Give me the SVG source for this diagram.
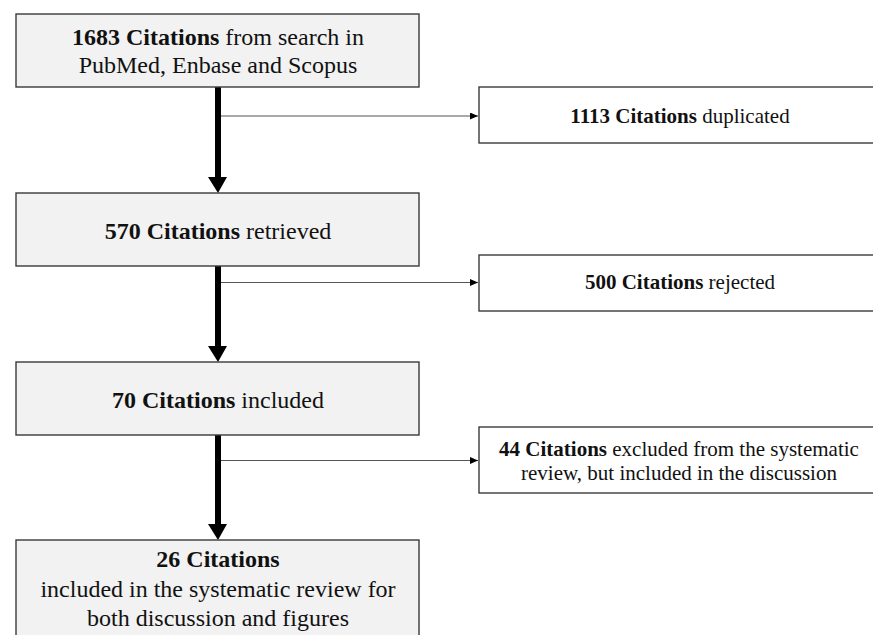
<svg xmlns="http://www.w3.org/2000/svg" width="873" height="635" viewBox="0 0 873 635">
<defs>
<style>
.main{fill:#f2f2f2;stroke:#3a3a3a;stroke-width:1.4}
.side{fill:#ffffff;stroke:#3a3a3a;stroke-width:1.4}
.t{font-family:'Tinos','Times New Roman','Times','Liberation Serif','DejaVu Serif',serif;fill:#111;text-anchor:middle}
.l{font-size:24px}
.r{font-size:21px}
.b{font-weight:bold}
.thick{stroke:#000;stroke-width:6;fill:none}
.thin{stroke:#555;stroke-width:1;fill:none}
</style>
<marker id="small" markerWidth="8" markerHeight="7" refX="8" refY="3.5" orient="auto" markerUnits="userSpaceOnUse">
<path d="M0,0 L8,3.5 L0,7 Z" fill="#000"/>
</marker>
</defs>
<rect width="873" height="635" fill="#ffffff"/>
<g id="connectors">
<line class="thick" x1="218" y1="87" x2="218" y2="178"/>
<path d="M208,177 L227,177 L218,193 Z" fill="#000"/>
<line class="thick" x1="218" y1="266" x2="218" y2="347"/>
<path d="M208,346 L227,346 L218,362 Z" fill="#000"/>
<line class="thick" x1="218" y1="435" x2="218" y2="525"/>
<path d="M208,524 L227,524 L218,540 Z" fill="#000"/>
<line class="thin" x1="221" y1="116" x2="478" y2="116" marker-end="url(#small)"/>
<line class="thin" x1="221" y1="282.5" x2="478" y2="282.5" marker-end="url(#small)"/>
<line class="thin" x1="221" y1="460.5" x2="478" y2="460.5" marker-end="url(#small)"/>
</g>
<g id="n1">
<rect class="main" x="16" y="14" width="403" height="73"/>
<text class="t l" x="218" y="45"><tspan class="b">1683 Citations</tspan> from search in</text>
<text class="t l" x="218" y="73">PubMed, Enbase and Scopus</text>
</g>
<g id="n2">
<rect class="side" x="479" y="87" width="410" height="56"/>
<text class="t r" x="680" y="123"><tspan class="b">1113 Citations</tspan> duplicated</text>
</g>
<g id="n3">
<rect class="main" x="16" y="193" width="403" height="73"/>
<text class="t l" x="218" y="239"><tspan class="b">570 Citations</tspan> retrieved</text>
</g>
<g id="n4">
<rect class="side" x="479" y="255" width="410" height="56"/>
<text class="t r" x="680" y="289"><tspan class="b">500 Citations</tspan> rejected</text>
</g>
<g id="n5">
<rect class="main" x="16" y="362" width="403" height="73"/>
<text class="t l" x="218" y="408"><tspan class="b">70 Citations</tspan> included</text>
</g>
<g id="n6">
<rect class="side" x="479" y="427" width="410" height="66"/>
<text class="t r" x="679" y="456"><tspan class="b">44 Citations</tspan> excluded from the systematic</text>
<text class="t r" x="679" y="480">review, but included in the discussion</text>
</g>
<g id="n7">
<rect class="main" x="16" y="540" width="403" height="110"/>
<text class="t l b" x="218" y="567">26 Citations</text>
<text class="t l" x="218" y="597">included in the systematic review for</text>
<text class="t l" x="218" y="626">both discussion and figures</text>
</g>
</svg>
